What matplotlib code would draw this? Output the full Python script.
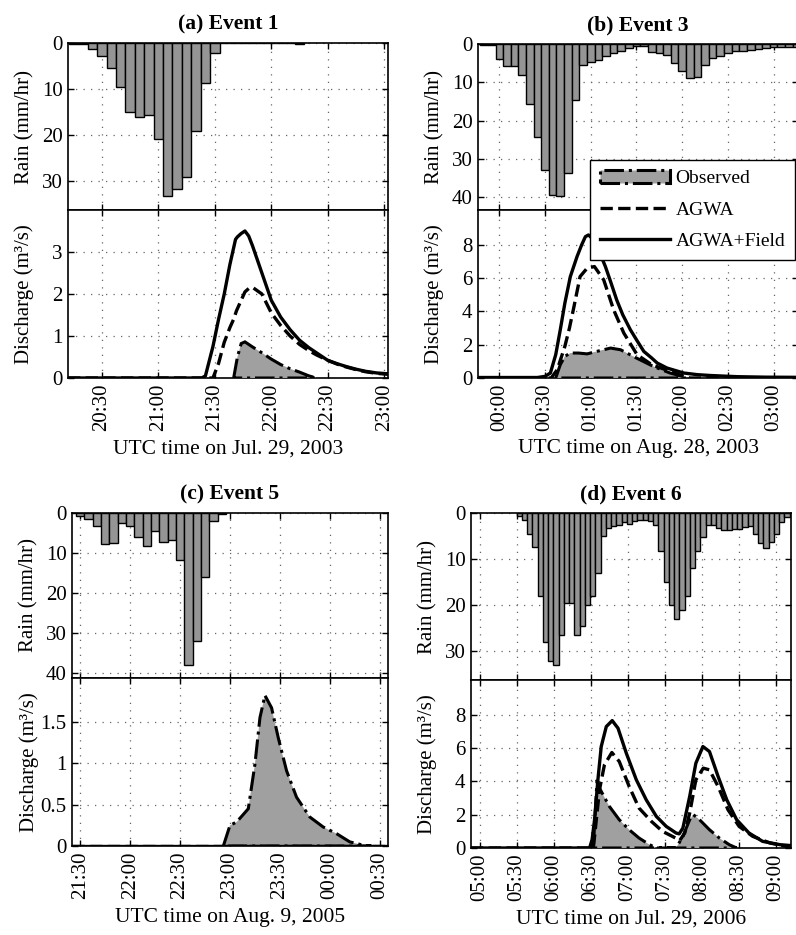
import numpy as np
import matplotlib
matplotlib.use("Agg")
import matplotlib.pyplot as plt

plt.rcParams['font.family'] = ['Liberation Serif', 'DejaVu Serif']
plt.rcParams['font.size'] = 14

# ---- data (times are minutes after the base hour of each event) ----
# Event 1, Jul. 29, 2003, base 20:00
rain1_start, rain1_step = 15, 5
rain1 = [0.2, 0.3, 1.2, 2.9, 5.4, 9.6, 15.0, 16.1, 15.7, 20.9, 33.2, 31.7, 29.1, 19.2, 8.8, 2.2,
         0, 0, 0, 0, 0, 0, 0, 0, 0.2]
field1_t = [12, 83, 85, 87, 89, 92, 95, 98, 100, 101, 102, 104, 106, 108, 110, 115, 120, 125, 130,
            135, 140, 144, 150, 155, 160, 165, 170, 176, 182]
field1 = [0, 0, 0.05, 0.4, 0.75, 1.4, 2.0, 2.7, 3.1, 3.3, 3.36, 3.44, 3.5, 3.38, 3.15, 2.5, 1.85,
          1.45, 1.15, 0.9, 0.72, 0.6, 0.42, 0.34, 0.27, 0.21, 0.16, 0.12, 0.1]
agwa1_t = [12, 89, 92, 95, 98, 100, 101.5, 104, 106, 108, 110, 115, 120, 125, 130, 135, 140, 144,
           150, 155, 160, 165, 170, 176, 182]
agwa1 = [0, 0, 0.35, 0.85, 1.2, 1.4, 1.6, 1.85, 2.05, 2.13, 2.16, 2.0, 1.55, 1.25, 1.0, 0.8, 0.65,
         0.55, 0.42, 0.33, 0.26, 0.2, 0.15, 0.11, 0.09]
obs1_t = [100, 101, 102, 104, 106, 108, 110, 115, 120, 125, 130, 135, 140, 144]
obs1 = [0, 0.25, 0.5, 0.82, 0.86, 0.8, 0.74, 0.6, 0.45, 0.32, 0.22, 0.14, 0.05, 0]

# Event 3, Aug. 28, 2003, base 23:00
rain3_start, rain3_step = 50, 5
rain3 = [0.2, 0.3, 3.8, 5.8, 5.8, 8.2, 15.6, 24.3, 32.8, 39.3, 39.7, 33.7, 14.7, 5.5, 4.7, 4.1,
         3.2, 2.3, 1.7, 1.0, 0.6, 0.5, 2.1, 2.3, 2.8, 5.0, 7.1, 8.9, 8.7, 5.6, 3.7, 3.0, 2.3, 1.9,
         1.7, 1.5, 1.3, 1.0, 0.9, 0.8, 0.7, 0.7]
field3_t = [46, 85, 90, 93.5, 97, 100, 103, 106.6, 111, 114, 116.5, 118.5, 122, 126, 129.6, 133,
            137, 141, 146, 150, 154.8, 160, 163.6, 170, 181, 190, 198.6, 216, 235, 256]
field3 = [0.03, 0.03, 0.1, 0.3, 1.4, 2.9, 4.5, 6.1, 7.3, 8.0, 8.5, 8.6, 8.3, 7.5, 6.7, 5.8, 4.7,
          3.8, 2.9, 2.3, 1.6, 1.2, 0.9, 0.6, 0.3, 0.2, 0.15, 0.08, 0.05, 0.04]
agwa3_t = [46, 94, 98, 103, 106, 109, 113, 117.6, 122.4, 128.5, 135, 141.7, 150.4, 160, 172, 181,
           185, 256]
agwa3 = [0, 0, 0.5, 1.9, 3.0, 4.3, 6.1, 6.6, 6.7, 5.9, 4.1, 2.7, 1.4, 0.8, 0.4, 0.1, 0, 0]
obs3_t = [97, 100, 103, 106.6, 112, 117.6, 124, 133, 139.5, 150, 161, 172, 181, 183]
obs3 = [0, 0.8, 1.3, 1.5, 1.5, 1.45, 1.6, 1.8, 1.7, 1.2, 0.7, 0.3, 0.08, 0]

# Event 5, Aug. 9, 2005, base 21:00
rain5_start, rain5_step = 30, 5
rain5 = [0.7, 1.5, 3.3, 7.8, 7.5, 2.5, 3.2, 6.0, 8.3, 4.5, 7.2, 6.8, 11.7, 38.0, 32.0, 16.0, 2.0,
         0.2]
field5_t = [25, 215]
field5 = [0, 0]
agwa5_t = [25, 215]
agwa5 = [0, 0]
obs5_t = [116, 120, 124, 131, 135, 138, 141, 145, 149, 154, 160, 168, 176, 184, 192, 200, 205]
obs5 = [0, 0.25, 0.29, 0.45, 0.99, 1.55, 1.82, 1.67, 1.31, 0.91, 0.59, 0.35, 0.23, 0.15, 0.05,
        0.01, 0]

# Event 6, Jul. 29, 2006, base 04:00
rain6_start, rain6_step = 92, 4.25
rain6 = [0.7, 1.5, 4.5, 7.3, 18, 28, 32, 33, 26.5, 19.5, 19.5, 26.5, 24.5, 20, 18, 13, 5, 3.2,
         2.8, 2.5, 2, 2.3, 1.7, 1.5, 1.5, 1.7, 2.5, 8.3, 15, 20, 23, 21, 18, 12, 8.3, 5.3, 2.5,
         2.5, 3.3, 3.7, 3.6, 3.5, 3.5, 3, 2.8, 4.5, 6.5, 7.5, 6.3, 4.5, 2, 0.8, 0.3]
field6_t = [53, 149, 151, 153, 155.7, 158.4, 162.5, 167.3, 172, 178.7, 186.8, 194.8, 203, 211, 219,
            221.5, 224.5, 230, 235, 240.7, 246, 253, 260, 268, 278, 289, 303, 313]
field6 = [0, 0, 0.5, 1.7, 4.1, 6.1, 7.3, 7.66, 7.2, 5.7, 4.1, 2.9, 1.9, 1.3, 0.9, 0.85, 1.2, 3.1,
          5.1, 6.1, 5.8, 4.3, 2.9, 1.7, 0.9, 0.4, 0.2, 0.14]
agwa6_t = [53, 152, 157, 161, 167, 173, 181, 189, 199, 208, 216, 222, 226, 230, 235, 241, 246, 253,
           261, 270, 281, 295, 308, 313]
agwa6 = [0, 0, 3.5, 5.0, 5.74, 5.2, 3.7, 2.4, 1.6, 1.0, 0.7, 0.46, 0.9, 2.1, 4.1, 4.8, 4.7, 3.7,
         2.3, 1.3, 0.7, 0.3, 0.1, 0.08]
obs6_t = [152, 155, 157, 165, 173, 181, 189, 197.5, 203, 219, 224.5, 230, 233, 238, 246, 254,
          262, 268]
obs6 = [0, 4.1, 3.6, 2.5, 1.7, 1.1, 0.6, 0.2, 0, 0, 0.7, 1.7, 2.0, 1.7, 1.1, 0.6, 0.2, 0]

events = [
    dict(title='(a) Event 1', base=20, xlabel='UTC time on Jul. 29, 2003',
         ticks=['20:30', '21:00', '21:30', '22:00', '22:30', '23:00'], xlim=(12, 182),
         rain=(rain1_start, rain1_step, rain1), rain_lim=36.3, rain_ticks=[0, 10, 20, 30],
         q=(obs1_t, obs1, agwa1_t, agwa1, field1_t, field1), q_lim=4.0, q_ticks=[0, 1, 2, 3],
         q_labels=['0', '1', '2', '3'],
         px=(68, 388, 43, 210, 378)),
    dict(title='(b) Event 3', base=23, xlabel='UTC time on Aug. 28, 2003',
         ticks=['00:00', '00:30', '01:00', '01:30', '02:00', '02:30', '03:00'], xlim=(46, 256),
         rain=(rain3_start, rain3_step, rain3), rain_lim=43.3, rain_ticks=[0, 10, 20, 30, 40],
         q=(obs3_t, obs3, agwa3_t, agwa3, field3_t, field3), q_lim=10.1, q_ticks=[0, 2, 4, 6, 8],
         q_labels=['0', '2', '4', '6', '8'],
         px=(478, 798, 44, 210, 378)),
    dict(title='(c) Event 5', base=21, xlabel='UTC time on Aug. 9, 2005',
         ticks=['21:30', '22:00', '22:30', '23:00', '23:30', '00:00', '00:30'], xlim=(25, 215),
         rain=(rain5_start, rain5_step, rain5), rain_lim=41.2, rain_ticks=[0, 10, 20, 30, 40],
         q=(obs5_t, obs5, agwa5_t, agwa5, field5_t, field5), q_lim=2.03, q_ticks=[0, 0.5, 1, 1.5],
         q_labels=['0', '0.5', '1', '1.5'],
         px=(72, 388, 513, 678, 846)),
    dict(title='(d) Event 6', base=4, xlabel='UTC time on Jul. 29, 2006',
         ticks=['05:00', '05:30', '06:00', '06:30', '07:00', '07:30', '08:00', '08:30', '09:00'],
         xlim=(53, 312),
         rain=(rain6_start, rain6_step, rain6), rain_lim=36.2, rain_ticks=[0, 10, 20, 30],
         q=(obs6_t, obs6, agwa6_t, agwa6, field6_t, field6), q_lim=10.1, q_ticks=[0, 2, 4, 6, 8],
         q_labels=['0', '2', '4', '6', '8'],
         px=(471, 791, 513, 680, 848)),
]

W, H = 796, 935
fig = plt.figure(figsize=(W / 100, H / 100), dpi=100)


def to_min(s, base):
    h, m = s.split(':')
    return (int(h) * 60 + int(m) - base * 60) % 1440


def style(ax):
    for sp in ax.spines.values():
        sp.set_linewidth(1.2)
    ax.tick_params(direction='in', length=4, width=1, top=True, right=True, labelsize=15, pad=4)
    ax.grid(True, linestyle=(0, (1, 5)), color='0.4', linewidth=0.9)
    ax.set_axisbelow(True)


handles = None
for ev in events:
    x0, x1, yt, ym, yb = ev['px']
    ax_r = fig.add_axes([x0 / W, 1 - ym / H, (x1 - x0) / W, (ym - yt) / H])
    ax_q = fig.add_axes([x0 / W, 1 - yb / H, (x1 - x0) / W, (yb - ym) / H])
    xt = [to_min(s, ev['base']) for s in ev['ticks']]

    start, step, vals = ev['rain']
    tr = start + step * np.arange(len(vals))
    ax_r.bar(tr, vals, width=step, color='#959595', edgecolor='k', linewidth=1.0, zorder=3)
    ax_r.set_xlim(ev['xlim'])
    ax_r.set_ylim(ev['rain_lim'], 0)
    ax_r.set_yticks(ev['rain_ticks'])
    ax_r.set_xticks(xt)
    ax_r.set_xticklabels([])
    ax_r.set_ylabel('Rain (mm/hr)', fontsize=15)
    ax_r.set_title(ev['title'], fontsize=15.5, fontweight='bold', pad=10)
    style(ax_r)

    ot, ov, at, av, ft, fv = ev['q']
    h_obs = ax_q.fill(ot, ov, facecolor='#a0a0a0', edgecolor='k', linestyle='-.', linewidth=2.2,
                      zorder=3, label='Observed')[0]
    h_agwa, = ax_q.plot(at, av, color='k', linestyle='--', linewidth=2.4, zorder=4, label='AGWA')
    h_field, = ax_q.plot(ft, fv, color='k', linestyle='-', linewidth=2.4, zorder=5,
                         label='AGWA+Field')
    ax_q.set_xlim(ev['xlim'])
    ax_q.set_ylim(0, ev['q_lim'])
    ax_q.set_yticks(ev['q_ticks'])
    ax_q.set_yticklabels(ev['q_labels'])
    ax_q.set_xticks(xt)
    ax_q.set_xticklabels(ev['ticks'], rotation=90)
    ax_q.set_ylabel('Discharge (m³/s)', fontsize=15)
    ax_q.set_xlabel(ev['xlabel'], fontsize=15.5, labelpad=6)
    style(ax_q)

    ax_r.yaxis.set_label_coords(-0.105, 0.5)
    ax_q.yaxis.set_label_coords(-0.105, 0.5)
    handles = [h_obs, h_agwa, h_field]

leg = fig.legend(handles, ['Observed', 'AGWA', 'AGWA+Field'], loc='upper left',
                 bbox_to_anchor=(590 / W, 1 - 160 / H), fontsize=14, handlelength=3.6,
                 frameon=True, fancybox=False, edgecolor='k', framealpha=1, borderpad=0.5,
                 borderaxespad=0, labelspacing=0.7, handletextpad=0.3)
leg.get_frame().set_linewidth(1.0)
leg.set_zorder(10)

fig.savefig('out.png', dpi=100)
